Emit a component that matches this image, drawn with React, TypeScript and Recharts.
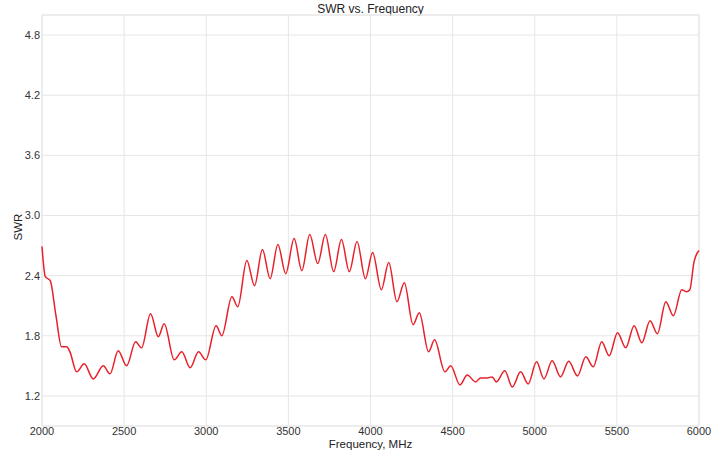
import { LineChart, Line, XAxis, YAxis, CartesianGrid, ReferenceArea } from 'recharts'

// extrema and shoulders (MHz, SWR)
const freq = [
  2000, 2020, 2050, 2085, 2119, 2150, 2170, 2211, 2257, 2312, 2373, 2414, 2464, 2515, 2570,
  2606, 2661, 2708, 2744, 2805, 2851, 2902, 2953, 2997, 3060, 3095, 3156, 3192, 3247, 3294,
  3342, 3389, 3436, 3484, 3535, 3582, 3630, 3679, 3725, 3776, 3823, 3871, 3918, 3969, 4013,
  4066, 4111, 4161, 4206, 4259, 4297, 4354, 4390, 4453, 4488, 4545, 4589, 4640, 4670, 4711,
  4741, 4766, 4818, 4863, 4914, 4960, 5011, 5056, 5106, 5157, 5207, 5260, 5311, 5356, 5408,
  5453, 5504, 5554, 5605, 5652, 5702, 5747, 5798, 5844, 5895, 5923, 5944, 5970, 6000,
]
const swr = [
  2.69, 2.39, 2.35, 2.0, 1.69, 1.69, 1.64, 1.44, 1.52, 1.37, 1.5, 1.42, 1.65, 1.5, 1.74,
  1.68, 2.02, 1.79, 1.92, 1.56, 1.64, 1.48, 1.64, 1.56, 1.9, 1.8, 2.19, 2.09, 2.55, 2.3,
  2.66, 2.37, 2.71, 2.42, 2.77, 2.45, 2.81, 2.52, 2.81, 2.44, 2.76, 2.44, 2.74, 2.37, 2.63,
  2.26, 2.53, 2.14, 2.33, 1.91, 2.03, 1.64, 1.76, 1.44, 1.5, 1.31, 1.41, 1.34, 1.38, 1.38,
  1.39, 1.34, 1.45, 1.29, 1.44, 1.32, 1.54, 1.37, 1.55, 1.39, 1.545, 1.4, 1.59, 1.49, 1.74,
  1.6, 1.83, 1.68, 1.9, 1.73, 1.95, 1.82, 2.14, 2.0, 2.26, 2.24, 2.26, 2.54, 2.65,
]

const xTicks = [2000, 2500, 3000, 3500, 4000, 4500, 5000, 5500, 6000]
const yTicks = [1.2, 1.8, 2.4, 3.0, 3.6, 4.2, 4.8]

const data = freq.map((f, i) => ({ f, swr: swr[i] }))

const font = '"Liberation Sans", Arial, sans-serif'
const tick = { fill: '#333', fontSize: 11, fontFamily: font }

export default function App() {
  return (
    <div style={{ position: 'absolute', left: 0, top: 0, width: 727, height: 456, background: '#fff', fontFamily: font }}>
      <div style={{ position: 'absolute', top: 2, left: 42, width: 657, textAlign: 'center', fontSize: 12, lineHeight: '14px', color: '#222' }}>
        SWR vs. Frequency
      </div>
      <div style={{ position: 'absolute', top: 438, left: 42, width: 657, textAlign: 'center', fontSize: 11.5, lineHeight: '12px', color: '#222' }}>
        Frequency, MHz
      </div>
      <div
        style={{
          position: 'absolute', left: 18, top: 227, fontSize: 11.5, lineHeight: '12px', color: '#222',
          transform: 'translate(-50%, -50%) rotate(-90deg)', whiteSpace: 'nowrap',
        }}
      >
        SWR
      </div>
      <LineChart width={727} height={456} data={data} margin={{ top: 15, right: 28, bottom: 0, left: 0 }}>
        <CartesianGrid stroke="#e6e6e6" />
        <ReferenceArea x1={2000} x2={6000} y1={0.9} y2={5.0} fill="none" stroke="#e6e6e6" ifOverflow="visible" />
        <XAxis
          dataKey="f"
          type="number"
          domain={[2000, 6000]}
          ticks={xTicks}
          axisLine={false}
          tickLine={false}
          tickSize={0}
          tickMargin={1}
          tick={tick}
          interval={0}
          height={30}
        />
        <YAxis
          type="number"
          domain={[0.9, 5.0]}
          ticks={yTicks}
          axisLine={false}
          tickLine={false}
          tickSize={0}
          tickMargin={2}
          tick={tick}
          tickFormatter={(v: number) => v.toFixed(1)}
          width={42}
          interval={0}
        />
        <Line type="monotone" dataKey="swr" stroke="#e8202a" strokeWidth={1.5} dot={false} isAnimationActive={false} />
      </LineChart>
    </div>
  )
}
